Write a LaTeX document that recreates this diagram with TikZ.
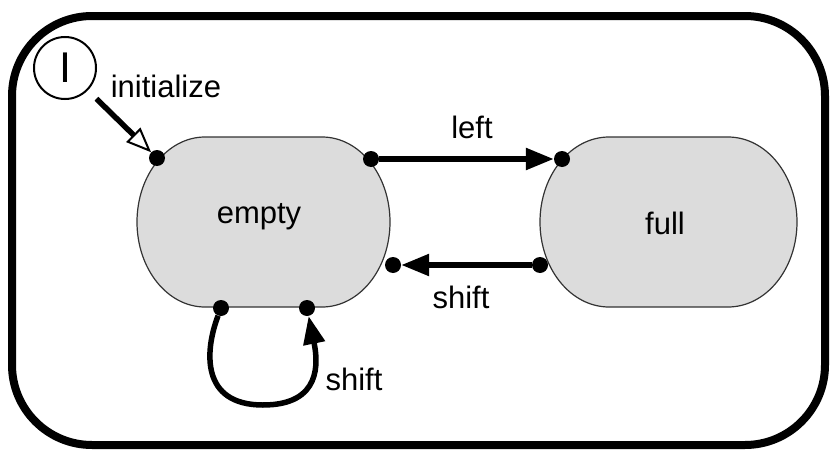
\documentclass[tikz,border=0pt]{standalone}
\usepackage{fontspec}
\setmainfont{Liberation Sans}
\usetikzlibrary{arrows.meta}

\definecolor{stateGray}{RGB}{220,220,220}
\newcommand{\labelFont}{\fontsize{31}{37}\selectfont}

\begin{document}
\begin{tikzpicture}[x=1pt, y=-1pt,
            dotNode/.style={circle, fill=black, inner sep=0pt, minimum size=16pt},
            stateShape/.style={draw=black!80, line width=1.2pt, fill=stateGray},
            transArrow/.style={line width=5.5pt, -{Triangle[length=28pt, width=21pt]}},
            initArrow/.style={line width=5.5pt, shorten <=12pt,
                -{Triangle[open, length=25pt, width=20pt, line width=2pt, fill=white]}},
            labelText/.style={anchor=base, inner sep=0pt, font=\labelFont}]

            \useasboundingbox (0,0) rectangle (833,455);

            % outer frame
            \draw[line width=8pt, rounded corners=80pt] (12,16) rectangle (825,445);

            % states
            \draw[stateShape] (205,137) -- (322,137)
                arc[start angle=-90, end angle=0, x radius=68, y radius=85]
                arc[start angle=0, end angle=90, x radius=68, y radius=85]
                -- (205,307)
                arc[start angle=90, end angle=180, x radius=68, y radius=85]
                arc[start angle=180, end angle=270, x radius=68, y radius=85] -- cycle;
            \draw[stateShape] (609,137) -- (728,137)
                arc[start angle=-90, end angle=0, x radius=69, y radius=85]
                arc[start angle=0, end angle=90, x radius=69, y radius=85]
                -- (609,307)
                arc[start angle=90, end angle=180, x radius=69, y radius=85]
                arc[start angle=180, end angle=270, x radius=69, y radius=85] -- cycle;
            \node[labelText] (empty) at (259,223) {empty};
            \node[labelText] (full) at (665,234) {full};

            % initial pseudo state
            \node[circle, draw, line width=2pt, inner sep=0pt, minimum size=62pt,
                font=\fontsize{43}{43}\selectfont] (init) at (65,68) {I};

            % connection points
            \node[dotNode] (node0) at (157,158) {};
            \node[dotNode] (node1) at (371,159) {};
            \node[dotNode] (node2) at (562,159) {};
            \node[dotNode] (node3) at (540,265) {};
            \node[dotNode] (node4) at (393,265) {};
            \node[dotNode] (node5) at (221,308) {};
            \node[dotNode] (node6) at (307,308) {};

            % transitions
            \draw[initArrow] (init) -- (node0);
            \draw[transArrow] (node1) -- (node2);
            \draw[transArrow] (node3) -- (node4);
            \draw[transArrow] (node5) .. controls (205,350) and (200,405) .. (263,405)
                .. controls (322,405) and (318,362) .. (node6);

            \node[labelText] (lblInit) at (166,97) {initialize};
            \node[labelText] (lblLeft) at (472,138) {left};
            \node[labelText] (lblShift) at (461,308) {shift};
            \node[labelText] (lblLoop) at (354,390) {shift};
        \end{tikzpicture}
\end{document}
